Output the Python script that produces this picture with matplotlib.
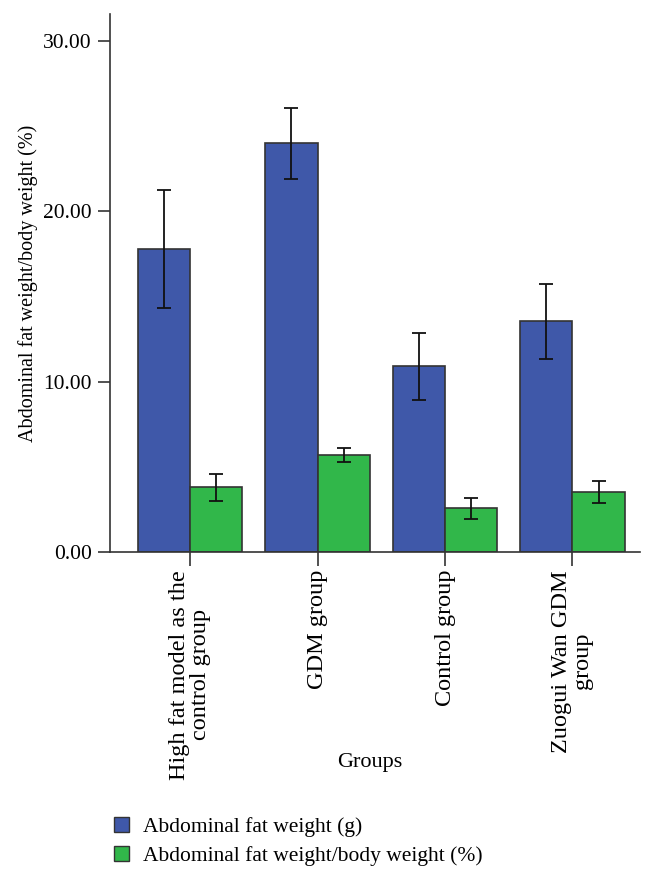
import numpy as np
import matplotlib
matplotlib.use('Agg')
import matplotlib.pyplot as plt
from matplotlib.patches import Patch

plt.rcParams['font.family'] = ['Liberation Serif', 'DejaVu Serif']

# data
groups = ['High fat model as the\ncontrol group', 'GDM group',
          'Control group', 'Zuogui Wan GDM\ngroup']
fat_weight = [17.8, 24.0, 10.9, 13.55]
fat_weight_err = [3.45, 2.1, 1.95, 2.2]
fat_ratio = [3.8, 5.7, 2.55, 3.5]
fat_ratio_err = [0.8, 0.4, 0.63, 0.65]
yticks = [0, 10, 20, 30]
ytick_labels = ['0.00', '10.00', '20.00', '30.00']

blue = '#3f58a9'
green = '#31b74a'
edge = '#333333'

fig = plt.figure(figsize=(6.66, 8.76), dpi=100)
ax = fig.add_axes([0.165, 0.370, 0.796, 0.614])

x = np.arange(len(groups))
w = 0.41
ax.bar(x - w / 2, fat_weight, w, color=blue, edgecolor=edge, lw=1.2,
       yerr=fat_weight_err, capsize=5,
       error_kw=dict(ecolor='#111111', elinewidth=1.3, capthick=1.3))
ax.bar(x + w / 2, fat_ratio, w, color=green, edgecolor=edge, lw=1.2,
       yerr=fat_ratio_err, capsize=5,
       error_kw=dict(ecolor='#111111', elinewidth=1.3, capthick=1.3))

ax.set_xlim(-0.63, 3.53)
ax.set_ylim(0, 31.6)
ax.set_yticks(yticks)
ax.set_yticklabels(ytick_labels, fontsize=15.5)
ax.set_xticks(x)
ax.set_xticklabels(groups, rotation=90, fontsize=17.5, ha='center', va='top',
                   multialignment='center', linespacing=1.0)
ax.tick_params(axis='y', length=9, width=1.2, color='#333333', pad=4)
ax.tick_params(axis='x', length=10, width=1.2, color='#333333', pad=3)
ax.spines['top'].set_visible(False)
ax.spines['right'].set_visible(False)
ax.spines['left'].set_color('#333333')
ax.spines['bottom'].set_color('#333333')
ax.spines['left'].set_linewidth(1.2)
ax.spines['bottom'].set_linewidth(1.2)

ax.set_ylabel('Abdominal fat weight/body weight (%)', fontsize=14.5, labelpad=4)
fig.text(0.555, 0.13, 'Groups', fontsize=16, ha='center', va='center')

handles = [Patch(facecolor=blue, edgecolor=edge, label='Abdominal fat weight (g)'),
           Patch(facecolor=green, edgecolor=edge,
                 label='Abdominal fat weight/body weight (%)')]
fig.legend(handles=handles, loc='lower left', bbox_to_anchor=(0.158, 0.002),
           borderaxespad=0, frameon=False, fontsize=15.5, handlelength=0.7,
           handleheight=0.7, handletextpad=0.65, labelspacing=0.4)

fig.savefig('out.png', dpi=100)
